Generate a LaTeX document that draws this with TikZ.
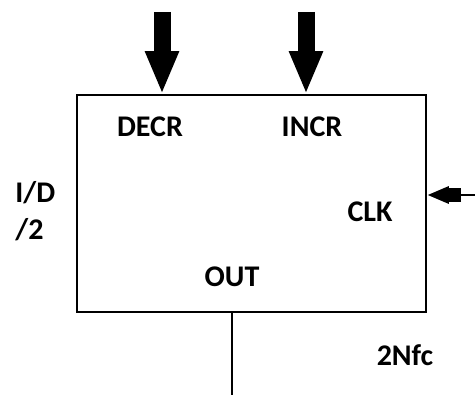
\documentclass[tikz,border=0pt]{standalone}
\usepackage{fontspec}
\setmainfont{Carlito}
\usetikzlibrary{positioning,arrows.meta}

\tikzset{
  blockbox/.style={draw, line width=0.8pt, minimum width=174.5pt, minimum height=108.5pt, inner sep=0pt},
  pinlabel/.style={font=\fontsize{15}{17}\selectfont\bfseries, inner sep=0pt},
  busarrow/.style={line width=8.5pt, -{Triangle[length=21.5pt,width=15.5pt]}},
  clkarrow/.style={line width=7pt, -{Triangle[length=11pt,width=8pt]}},
  wire/.style={line width=0.8pt}
}

\begin{document}
\begin{tikzpicture}[x=0.5pt, y=-0.5pt]
			\useasboundingbox (0,0) rectangle (475,395);
			\node[blockbox] (ctr) at (251.5,203.5) {};

			\node[pinlabel] (decr) at (150,127) {DECR};
			\node[pinlabel] (incr) at (312,127) {INCR};
			\node[pinlabel] (clk) at (370,212) {CLK};
			\node[pinlabel] (out) at (232,277) {OUT};
			\node[pinlabel, anchor=west] (div) at (15,193) {I/D};
			\node[pinlabel, anchor=west] (divtwo) at (15,230) {/2};
			\node[pinlabel] (nfc) at (405,355) {2Nfc};

			\coordinate (decrin) at (162,12);
			\coordinate (incrin) at (306,12);
			\coordinate (clkin) at (475,195);
			\coordinate (clkmid) at (461,195);
			\coordinate (outend) at (232,395);

			\draw[busarrow] (decrin) -- (decrin |- ctr.north);
			\draw[busarrow] (incrin) -- (incrin |- ctr.north);
			\draw[wire] (clkin) -- (clkmid);
			\draw[clkarrow] (clkmid) -- (clkmid -| ctr.east);
			\draw[wire] (outend |- ctr.south) -- (outend);
		\end{tikzpicture}
\end{document}
